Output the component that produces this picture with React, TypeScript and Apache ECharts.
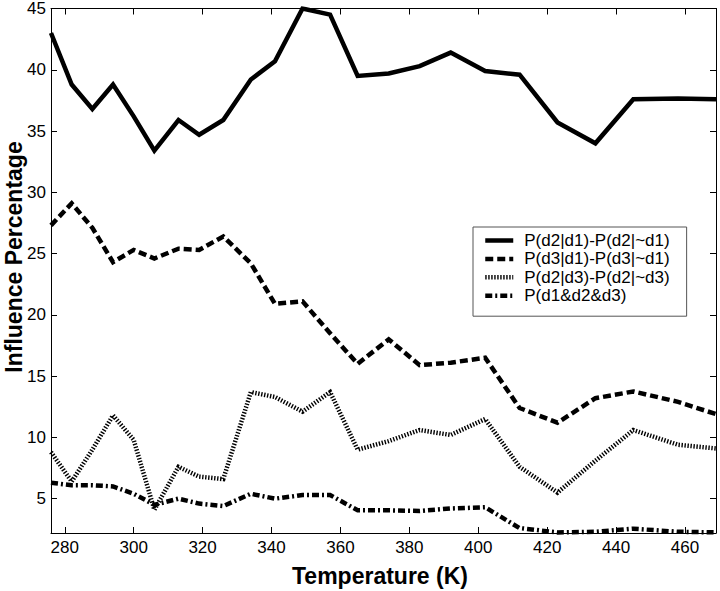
import React, { useEffect, useRef } from "react";
import * as echarts from "echarts";

const temperatures = [276, 282, 288, 294, 300, 306, 313, 319, 326, 334, 341, 349, 357, 365, 374, 383, 392, 402, 412, 423, 434, 445, 458, 469];
const d2d1 = [43.0, 38.8, 36.8, 38.8, 36.2, 33.4, 35.9, 34.7, 35.9, 39.2, 40.7, 45.0, 44.5, 39.5, 39.7, 40.3, 41.4, 39.9, 39.6, 35.7, 34.0, 37.6, 37.65, 37.6];
const d3d1 = [27.3, 29.1, 27.1, 24.3, 25.3, 24.6, 25.4, 25.3, 26.4, 24.2, 20.9, 21.1, 18.5, 16.0, 18.0, 15.9, 16.1, 16.5, 12.4, 11.2, 13.2, 13.75, 12.9, 11.9];
const d2d3 = [8.8, 6.4, 9.0, 11.8, 9.8, 4.1, 7.6, 6.8, 6.6, 13.7, 13.3, 12.1, 13.7, 9.0, 9.7, 10.6, 10.2, 11.5, 7.6, 5.5, 8.1, 10.6, 9.4, 9.1];
const d1d2d3 = [6.3, 6.1, 6.1, 6.0, 5.4, 4.5, 5.0, 4.6, 4.4, 5.4, 5.0, 5.3, 5.3, 4.05, 4.05, 4.0, 4.2, 4.3, 2.6, 2.25, 2.3, 2.55, 2.3, 2.25];
const seriesNames = ["P(d2|d1)-P(d2|~d1)", "P(d3|d1)-P(d3|~d1)", "P(d2|d3)-P(d2|~d3)", "P(d1&d2&d3)"];
const xTitle = "Temperature (K)";
const yTitle = "Influence Percentage";

const FONT = "'Liberation Sans', Arial, Helvetica, sans-serif";

export default function App() {
  const ref = useRef<HTMLDivElement>(null);
  useEffect(() => {
    if (!ref.current) return;
    const chart = echarts.init(ref.current, null, { renderer: "svg" });
    const pairs = (ys: number[]) => temperatures.map((t, i) => [t, ys[i]]);
    const dashStyles: any[] = ["solid", [8, 4], [1.4, 1.6], [7, 3, 2, 3]];
    const widths = [4.5, 4.5, 4.5, 4.5];
    const datas = [d2d1, d3d1, d2d3, d1d2d3];
    const xCommon = {
      type: "value" as const,
      min: 276,
      max: 469,
      splitNumber: 10,
      splitLine: { show: false },
      axisLine: { show: true, lineStyle: { color: "#000", width: 1 } },
      axisTick: { show: true, inside: true, length: 6, lineStyle: { color: "#000" } },
    };
    const yCommon = {
      type: "value" as const,
      min: 2.2,
      max: 45,
      splitNumber: 8,
      splitLine: { show: false },
      axisLine: { show: true, lineStyle: { color: "#000", width: 1 } },
      axisTick: { show: true, inside: true, length: 6, lineStyle: { color: "#000" } },
    };
    chart.setOption({
      animation: false,
      backgroundColor: "#fff",
      textStyle: { fontFamily: FONT },
      grid: { left: 51, right: 4, top: 8, bottom: 58, containLabel: false },
      xAxis: [
        {
          ...xCommon,
          position: "bottom",
          axisLabel: {
            color: "#000",
            fontSize: 17,
            fontFamily: FONT,
            margin: 6,
            formatter: (v: number) => (Math.abs(v % 20) < 1e-6 ? String(v) : ""),
          },
        },
        { ...xCommon, position: "top", axisLabel: { show: false } },
      ],
      yAxis: [
        {
          ...yCommon,
          position: "left",
          axisLabel: {
            color: "#000",
            fontSize: 17,
            fontFamily: FONT,
            margin: 5,
            formatter: (v: number) => (Math.abs(v % 5) < 1e-6 ? String(v) : ""),
          },
        },
        { ...yCommon, position: "right", axisLabel: { show: false } },
      ],
      legend: {
        orient: "vertical",
        left: 473,
        top: 227,
        padding: [5, 17, 12, 10],
        itemWidth: 28,
        itemHeight: 10,
        itemGap: 1.4,
        backgroundColor: "#fff",
        borderColor: "#555",
        borderWidth: 1,
        borderRadius: 0,
        itemStyle: { opacity: 0, borderWidth: 0 },
        lineStyle: { width: 4.5 },
        textStyle: { color: "#000", fontSize: 17, lineHeight: 17, fontFamily: FONT, padding: [0, 0, 0, 6] },
        data: seriesNames,
      },
      graphic: [
        {
          type: "text",
          x: 14,
          y: 257,
          rotation: Math.PI / 2,
          style: {
            text: yTitle,
            fill: "#000",
            font: `bold 23px ${FONT}`,
            align: "center",
            verticalAlign: "middle",
          },
        },
        {
          type: "text",
          x: 380,
          y: 576,
          style: {
            text: xTitle,
            fill: "#000",
            font: `bold 23px ${FONT}`,
            align: "center",
            verticalAlign: "middle",
          },
        },
      ],
      series: seriesNames.map((name, i) => ({
        name,
        type: "line",
        xAxisIndex: 0,
        yAxisIndex: 0,
        data: pairs(datas[i]),
        symbol: "none",
        showSymbol: false,
        clip: true,
        lineStyle: { color: "#000", width: widths[i], type: dashStyles[i], cap: "butt", join: "miter" },
        itemStyle: { color: "#000" },
      })),
    });
    return () => chart.dispose();
  }, []);
  return <div ref={ref} style={{ width: 720, height: 591, position: "absolute", left: 0, top: 0 }} />;
}
